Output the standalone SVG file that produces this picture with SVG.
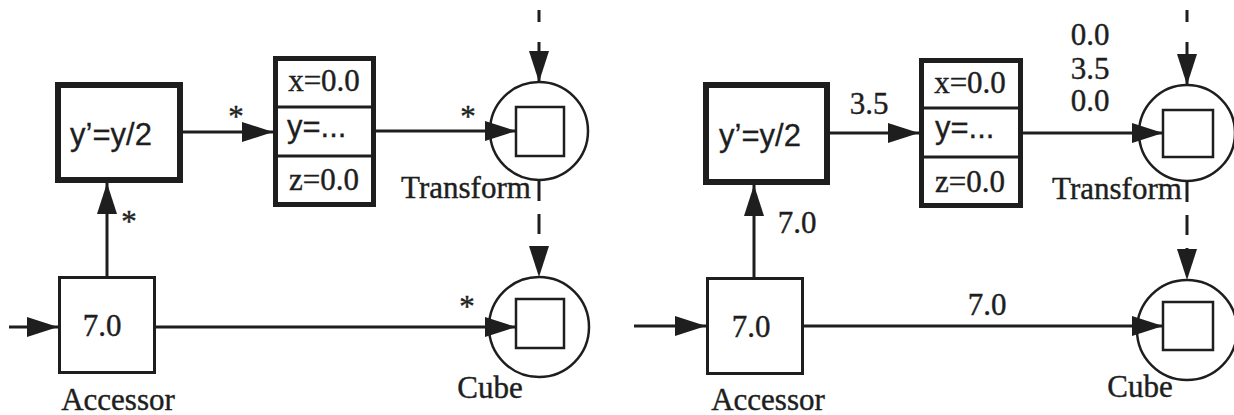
<svg xmlns="http://www.w3.org/2000/svg" width="1234" height="415" viewBox="0 0 1234 415">
  <style>
    .bg { fill: #ffffff; }
    .line { stroke: #1e1e1e; stroke-width: 3; fill: none; }
    .dash { stroke: #1e1e1e; stroke-width: 3; fill: none; }
    .thin { stroke: #1e1e1e; stroke-width: 2.5; fill: #fff; }
    .box { stroke: #1e1e1e; stroke-width: 3; fill: #fff; }
    .thick { stroke: #1e1e1e; stroke-width: 6; fill: #fff; }
    .struct { stroke: #1e1e1e; stroke-width: 5; fill: #fff; }
    .div { stroke: #1e1e1e; stroke-width: 3; }
    .ring { stroke: #1e1e1e; stroke-width: 2.5; fill: #fff; }
    .serif { font-family: "Liberation Serif", "Times New Roman", serif; font-size: 31px; fill: #1e1e1e; stroke: #1e1e1e; stroke-width: 0.4; }
    .sans { font-family: "Liberation Sans", Arial, sans-serif; font-size: 31px; fill: #1e1e1e; stroke: #1e1e1e; stroke-width: 0.3; }
    .mid { text-anchor: middle; }
  </style>
  <defs>
    <marker id="arrow" markerUnits="userSpaceOnUse" markerWidth="31" markerHeight="20" refX="31" refY="10" orient="auto" viewBox="0 0 31 20">
      <path d="M0,0 L31,10 L0,20 Z" fill="#1e1e1e" stroke="none"/>
    </marker>
  </defs>
  <rect class="bg" x="0" y="0" width="1234" height="415"/>

  <!-- left network nodes -->
  <g id="accessor-left">
    <rect class="box" x="59.5" y="277.5" width="95" height="95"/>
    <text class="serif mid" x="102" y="336">7.0</text>
    <text class="serif mid" x="118" y="410">Accessor</text>
  </g>
  <g id="divide-left">
    <rect class="thick" x="58" y="85" width="122" height="95"/>
    <text class="sans mid" x="111" y="145">y’=y/2</text>
  </g>
  <g id="struct-left">
    <rect class="struct" x="275.5" y="58.5" width="98" height="146"/>
    <line class="div" x1="275.5" y1="107" x2="373.5" y2="107"/>
    <line class="div" x1="275.5" y1="156" x2="373.5" y2="156"/>
    <text class="serif mid" x="324" y="91">x=0.0</text>
    <text class="sans" x="287" y="137">y=...</text>
    <text class="serif mid" x="324" y="190">z=0.0</text>
  </g>
  <g id="transform-left">
    <circle class="ring" cx="539" cy="131" r="49"/>
    <rect class="thin" x="516" y="107" width="48" height="49"/>
    <text class="serif mid" x="466" y="198">Transform</text>
  </g>
  <g id="cube-left">
    <circle class="ring" cx="539" cy="327" r="50"/>
    <rect class="thin" x="516" y="299" width="48" height="49"/>
    <text class="serif mid" x="490" y="398">Cube</text>
  </g>

  <!-- right network nodes -->
  <g id="accessor-right">
    <rect class="box" x="707.5" y="278.5" width="95" height="95"/>
    <text class="serif mid" x="751" y="337">7.0</text>
    <text class="serif mid" x="768" y="410">Accessor</text>
  </g>
  <g id="divide-right">
    <rect class="thick" x="706" y="85" width="121" height="97"/>
    <text class="sans mid" x="760" y="146">y’=y/2</text>
  </g>
  <g id="struct-right">
    <rect class="struct" x="921.5" y="60.5" width="99" height="145"/>
    <line class="div" x1="921.5" y1="108" x2="1020.5" y2="108"/>
    <line class="div" x1="921.5" y1="157" x2="1020.5" y2="157"/>
    <text class="serif mid" x="970" y="93">x=0.0</text>
    <text class="sans" x="935" y="138">y=...</text>
    <text class="serif mid" x="970" y="192">z=0.0</text>
  </g>
  <g id="transform-right">
    <circle class="ring" cx="1187" cy="133" r="48"/>
    <rect class="thin" x="1163" y="110" width="50" height="47"/>
    <text class="serif mid" x="1117" y="199">Transform</text>
  </g>
  <g id="cube-right">
    <circle class="ring" cx="1187" cy="330" r="50"/>
    <rect class="thin" x="1163" y="302" width="50" height="48"/>
    <text class="serif mid" x="1140" y="397">Cube</text>
  </g>

  <!-- connectors, drawn over the node outlines -->
  <g id="connectors">
    <!-- left network -->
    <line class="line" x1="9" y1="327" x2="58" y2="327" marker-end="url(#arrow)"/>
    <line class="line" x1="107" y1="276" x2="107" y2="183" marker-end="url(#arrow)"/>
    <line class="line" x1="183" y1="132" x2="273" y2="132" marker-end="url(#arrow)"/>
    <line class="line" x1="376" y1="131" x2="516" y2="131" marker-end="url(#arrow)"/>
    <line class="line" x1="156" y1="327" x2="516" y2="327" marker-end="url(#arrow)"/>
    <line class="dash" x1="539" y1="10" x2="539" y2="82" stroke-dasharray="12 20" marker-end="url(#arrow)"/>
    <line class="dash" x1="539" y1="181" x2="539" y2="277" stroke-dasharray="20 13" marker-end="url(#arrow)"/>
    <!-- right network -->
    <line class="line" x1="634" y1="326" x2="706" y2="326" marker-end="url(#arrow)"/>
    <line class="line" x1="754" y1="277" x2="754" y2="185" marker-end="url(#arrow)"/>
    <line class="line" x1="830" y1="133" x2="919" y2="133" marker-end="url(#arrow)"/>
    <line class="line" x1="1023" y1="133" x2="1163" y2="133" marker-end="url(#arrow)"/>
    <line class="line" x1="804" y1="326" x2="1163" y2="326" marker-end="url(#arrow)"/>
    <line class="dash" x1="1187" y1="10" x2="1187" y2="85" stroke-dasharray="12 20" marker-end="url(#arrow)"/>
    <line class="dash" x1="1187" y1="182" x2="1187" y2="280" stroke-dasharray="20 13" marker-end="url(#arrow)"/>

    <!-- connector labels -->
    <text class="serif mid" x="129" y="232">*</text>
    <text class="serif mid" x="236" y="127">*</text>
    <text class="serif mid" x="468" y="127">*</text>
    <text class="serif mid" x="467" y="317">*</text>
    <text class="serif mid" x="797" y="233">7.0</text>
    <text class="serif mid" x="869" y="114">3.5</text>
    <text class="serif mid" x="987" y="315">7.0</text>
    <text class="serif mid" x="1090" y="45">0.0</text>
    <text class="serif mid" x="1090" y="79">3.5</text>
    <text class="serif mid" x="1090" y="111">0.0</text>
  </g>
</svg>
